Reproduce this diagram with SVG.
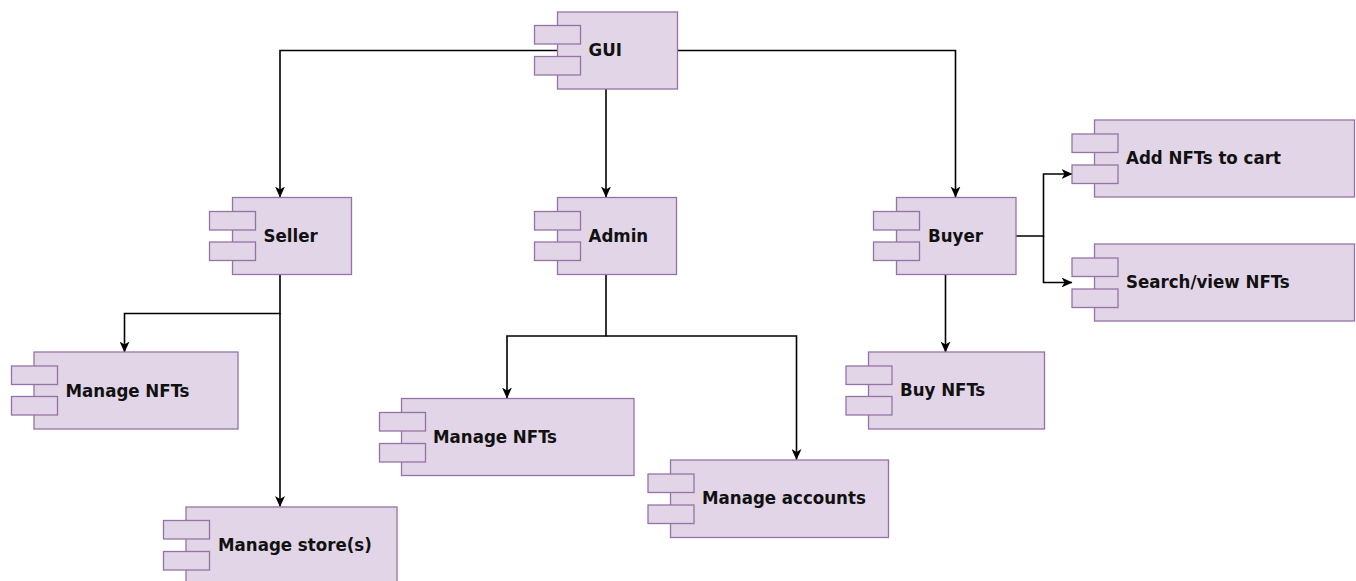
<svg xmlns="http://www.w3.org/2000/svg" width="1356" height="581" viewBox="0 0 1356 581">
<defs>
<style>
.box{fill:#e1d5e7;stroke:#9673a6;stroke-width:1.3}
.lbl{font-family:"DejaVu Sans Condensed","DejaVu Sans",Verdana,sans-serif;font-stretch:condensed;font-weight:bold;font-size:18.5px;fill:#111}
.edge{fill:none;stroke:#000;stroke-width:1.6}
</style>
<marker id="arr" viewBox="0 0 11 10" refX="10.5" refY="5" markerWidth="11" markerHeight="10" markerUnits="userSpaceOnUse" orient="auto">
<path d="M0,0 L11,5 L0,10 L3,5 Z" fill="#000"/>
</marker>
</defs>
<rect width="1356" height="581" fill="#fff"/>
<g id="connectors">
<path class="edge" d="M557.5,50.5 H280 V197" marker-end="url(#arr)"/>
<path class="edge" d="M606,89 V197" marker-end="url(#arr)"/>
<path class="edge" d="M677.5,50.5 H955.5 V197" marker-end="url(#arr)"/>
<path class="edge" d="M280,275 V313.5 H124.5 V352" marker-end="url(#arr)"/>
<path class="edge" d="M280,313 V506.5" marker-end="url(#arr)"/>
<path class="edge" d="M606,275 V336 H507 V398" marker-end="url(#arr)"/>
<path class="edge" d="M606,336 H796.5 V459.5" marker-end="url(#arr)"/>
<path class="edge" d="M1016,236 H1043.5 V174 H1072" marker-end="url(#arr)"/>
<path class="edge" d="M1043.5,236 V282.5 H1072" marker-end="url(#arr)"/>
<path class="edge" d="M945.5,275 V352" marker-end="url(#arr)"/>
</g>
<g id="gui">
<rect class="box" x="557.5" y="12" width="120" height="77"/>
<rect class="box" x="534.5" y="25.5" width="46" height="18.5"/>
<rect class="box" x="534.5" y="56.5" width="46" height="18.5"/>
<text class="lbl" x="588.5" y="56">GUI</text>
</g>
<g id="seller">
<rect class="box" x="232.5" y="197.5" width="119" height="77"/>
<rect class="box" x="209.5" y="211.5" width="46" height="18.5"/>
<rect class="box" x="209.5" y="242" width="46" height="18.5"/>
<text class="lbl" x="263.5" y="242">Seller</text>
</g>
<g id="admin">
<rect class="box" x="557.5" y="197.5" width="119" height="77"/>
<rect class="box" x="534.5" y="211.5" width="46" height="18.5"/>
<rect class="box" x="534.5" y="242" width="46" height="18.5"/>
<text class="lbl" x="588.5" y="242">Admin</text>
</g>
<g id="buyer">
<rect class="box" x="896.5" y="197.5" width="119.5" height="77"/>
<rect class="box" x="873.5" y="211.5" width="46" height="18.5"/>
<rect class="box" x="873.5" y="242" width="46" height="18.5"/>
<text class="lbl" x="928" y="242">Buyer</text>
</g>
<g id="seller-manage-nfts">
<rect class="box" x="34" y="352" width="204" height="77"/>
<rect class="box" x="11.5" y="366" width="46" height="18.5"/>
<rect class="box" x="11.5" y="396.5" width="46" height="18.5"/>
<text class="lbl" x="65.5" y="397">Manage NFTs</text>
</g>
<g id="manage-stores">
<rect class="box" x="186" y="507" width="211" height="77"/>
<rect class="box" x="163.5" y="520.5" width="46" height="18.5"/>
<rect class="box" x="163.5" y="551.5" width="46" height="18.5"/>
<text class="lbl" x="218" y="551">Manage store(s)</text>
</g>
<g id="admin-manage-nfts">
<rect class="box" x="401.5" y="398.5" width="232.5" height="77"/>
<rect class="box" x="379.5" y="412.5" width="46" height="18.5"/>
<rect class="box" x="379.5" y="443.5" width="46" height="18.5"/>
<text class="lbl" x="433" y="443">Manage NFTs</text>
</g>
<g id="manage-accounts">
<rect class="box" x="670.5" y="460" width="218" height="77.5"/>
<rect class="box" x="648" y="474" width="46" height="18.5"/>
<rect class="box" x="648" y="505" width="46" height="18.5"/>
<text class="lbl" x="702" y="504">Manage accounts</text>
</g>
<g id="buy-nfts">
<rect class="box" x="868.5" y="352" width="176" height="77"/>
<rect class="box" x="846" y="366" width="46" height="18.5"/>
<rect class="box" x="846" y="396.5" width="46" height="18.5"/>
<text class="lbl" x="900" y="396">Buy NFTs</text>
</g>
<g id="add-nfts-to-cart">
<rect class="box" x="1094.5" y="120" width="260" height="77"/>
<rect class="box" x="1072" y="134" width="46" height="18.5"/>
<rect class="box" x="1072" y="165" width="46" height="18.5"/>
<text class="lbl" x="1126" y="164">Add NFTs to cart</text>
</g>
<g id="search-view-nfts">
<rect class="box" x="1094.5" y="244" width="260" height="77"/>
<rect class="box" x="1072" y="258" width="46" height="18.5"/>
<rect class="box" x="1072" y="289" width="46" height="18.5"/>
<text class="lbl" x="1126" y="288">Search/view NFTs</text>
</g>
</svg>
